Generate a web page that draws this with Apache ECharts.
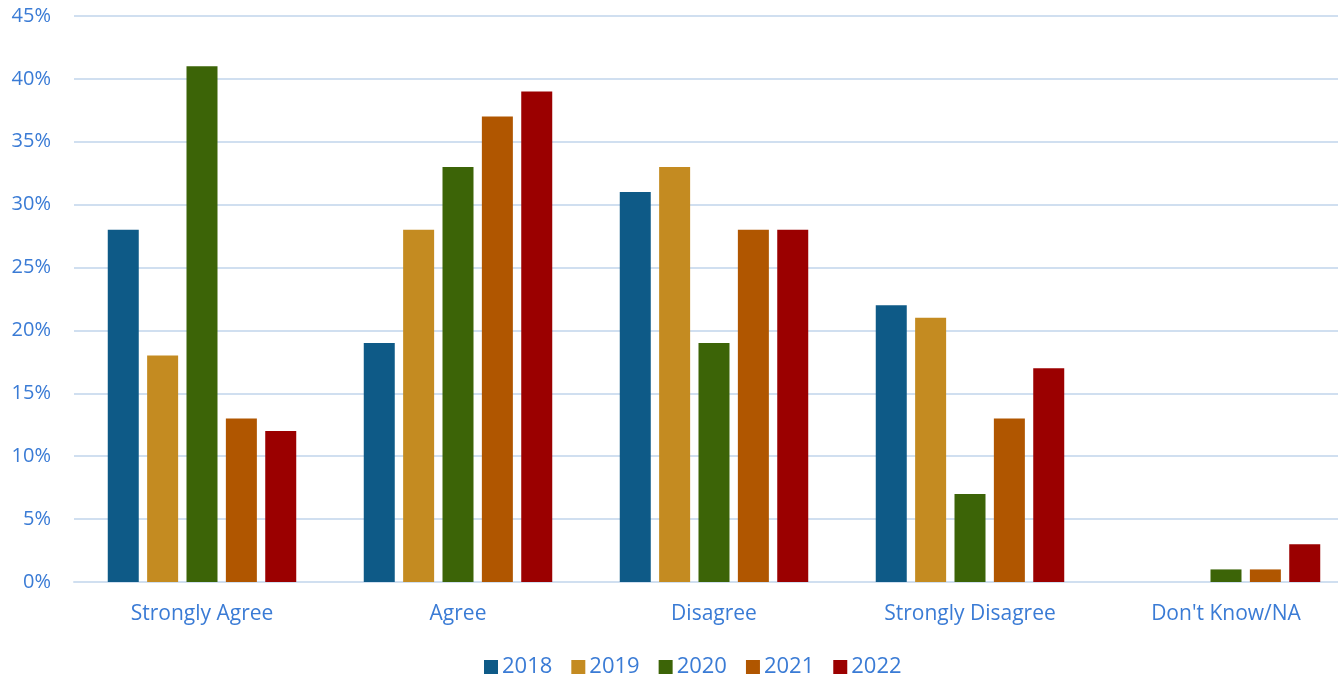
<!DOCTYPE html>
<html><head><meta charset="utf-8">
<script src="https://cdn.jsdelivr.net/npm/echarts@6/dist/echarts.min.js"></script>
<style>html,body{margin:0;padding:0;background:#fff;overflow:hidden}#c{width:1354px;height:676px}</style>
</head><body><div id="c"></div>
<script>
const categories = ["Strongly Agree", "Agree", "Disagree", "Strongly Disagree", "Don't Know/NA"];
const years = ["2018", "2019", "2020", "2021", "2022"];
const v2018 = [28, 19, 31, 22, 0];
const v2019 = [18, 28, 33, 21, 0];
const v2020 = [41, 33, 19, 7, 1];
const v2021 = [13, 37, 28, 13, 1];
const v2022 = [12, 39, 28, 17, 3];
const yTicks = [0, 5, 10, 15, 20, 25, 30, 35, 40, 45];
const colors = ["#0e5a87", "#c48b21", "#3c6407", "#b05600", "#9b0000"];
const seriesData = [v2018, v2019, v2020, v2021, v2022];
const txt = "#3a7bd5";
const font = "'Open Sans', 'Noto Sans', sans-serif";
const chart = echarts.init(document.getElementById('c'), null, {renderer: 'canvas'});
chart.setOption({
  animation: false,
  textStyle: {fontFamily: font},
  grid: {left: 74, right: 0, top: 16, height: 566, containLabel: false},
  legend: {
    top: 656, left: 484, padding: 0,
    itemWidth: 14, itemHeight: 14, itemGap: 19,
    icon: 'rect',
    textStyle: {color: txt, fontSize: 22, fontFamily: font, padding: [0,0,0,-1]},
    data: years
  },
  xAxis: {
    type: 'category', data: categories,
    axisLine: {lineStyle: {color: '#d0dff0', width: 2}},
    axisTick: {show: false},
    axisLabel: {color: txt, fontSize: 21, margin: 22, fontFamily: font}
  },
  yAxis: {
    type: 'value', min: 0, max: yTicks[yTicks.length-1], interval: 5,
    axisLine: {show: false}, axisTick: {show: false},
    splitLine: {lineStyle: {color: '#d0dff0', width: 2}},
    axisLabel: {color: txt, fontSize: 20, margin: 23, fontFamily: font, formatter: v => v + '%'}
  },
  series: years.map((y, i) => ({
    name: y, type: 'bar', data: seriesData[i],
    barWidth: 31, barGap: '27%',
    itemStyle: {color: colors[i]}
  }))
});
</script></body></html>
